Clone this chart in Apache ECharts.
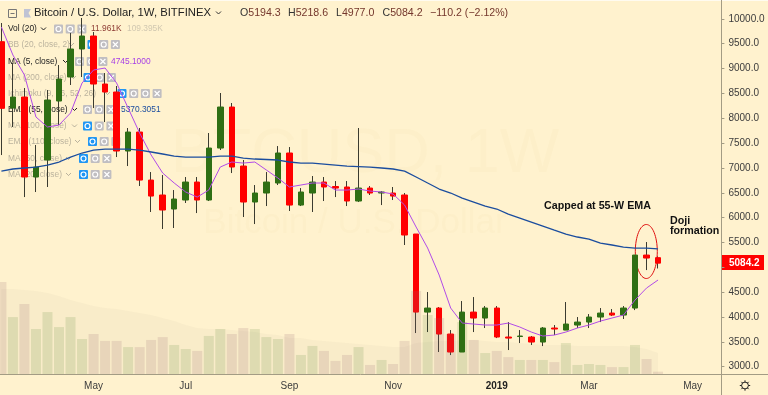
<!DOCTYPE html>
<html>
<head>
<meta charset="utf-8">
<style>
    html, body { margin: 0; padding: 0; background: #fff2ce; }
    #chart { width: 768px; height: 395px; }
</style>
<script src="https://cdn.jsdelivr.net/npm/echarts@6/dist/echarts.min.js"></script>
</head>
<body>
<div id="chart"></div>
<script>
// weekly bars
const weeks = ['2018-03-05','2018-03-12','2018-03-19','2018-03-26','2018-04-02','2018-04-09','2018-04-16','2018-04-23','2018-04-30','2018-05-07','2018-05-14','2018-05-21','2018-05-28','2018-06-04','2018-06-11','2018-06-18','2018-06-25','2018-07-02','2018-07-09','2018-07-16','2018-07-23','2018-07-30','2018-08-06','2018-08-13','2018-08-20','2018-08-27','2018-09-03','2018-09-10','2018-09-17','2018-09-24','2018-10-01','2018-10-08','2018-10-15','2018-10-22','2018-10-29','2018-11-05','2018-11-12','2018-11-19','2018-11-26','2018-12-03','2018-12-10','2018-12-17','2018-12-24','2018-12-31','2019-01-07','2019-01-14','2019-01-21','2019-01-28','2019-02-04','2019-02-11','2019-02-18','2019-02-25','2019-03-04','2019-03-11','2019-03-18','2019-03-25','2019-04-01','2019-04-08','2019-04-15','2019-04-22','2019-04-29','2019-05-06','2019-05-13']
const tickLabels = { '2018-04-30': 'May', '2018-06-25': 'Jul', '2018-08-27': 'Sep', '2018-10-29': 'Nov', '2018-12-31': '2019', '2019-02-25': 'Mar', '2019-04-29': 'May' }
const priceTicks = [3000, 3500, 4000, 4500, 5000, 5500, 6000, 6500, 7000, 7500, 8000, 8500, 9000, 9500, 10000]
// 5000.0 sits under the last price tag
const priceLabels = [3000, 3500, 4000, 4500, 5500, 6000, 6500, 7000, 7500, 8000, 8500, 9000, 9500, 10000]

const opens = [9539,8205,8426,6817,7159,8346,8829,9392,9654,8688,8527,7340,7722,6756,6455,6173,6354,6716,6354,7400,8225,7038,6314,6495,6696,7300,6253,6495,6716,6626,6616,6334,6595,6495,6495,6455,5670,4100,4181,3658,3296,4100,3980,4181,3598,3608,3598,3497,3779,3738,3839,3899,4000,4080,4040,4181,5247,5194.3]
const closes = [8199,8426,6817,7018,8366,8788,9392,9654,8688,8527,7340,7722,6756,6434,6153,6374,6716,6354,7400,8225,7018,6314,6495,6716,7300,6253,6515,6716,6616,6595,6334,6595,6495,6515,6434,5650,4100,4181,3658,3296,4100,3980,4181,3598,3577,3618,3497,3779,3759,3859,3899,4000,4080,4040,4181,5247,5187,5084.2]
const lows = [7259,7823,6414,6515,6616,7863,8668,8829,8205,7923,7219,7038,6636,6113,5771,5791,6294,6092,6334,7360,6897,6012,5871,6233,6656,6133,6233,6113,6334,6414,6233,6314,6455,6253,6354,5449,3678,3698,3296,3235,3296,3698,3779,3577,3336,3477,3437,3416,3638,3738,3779,3779,3899,4020,3960,4140,4945,4977]
const highs = [9915,9110,8607,7461,8567,9070,9714,10016,9734,8909,8648,7803,7803,6917,6857,6555,6817,6817,7702,8507,8306,7159,6656,6917,7440,7420,6595,6837,6817,6736,6736,7803,6636,6535,6616,6495,5670,4503,4201,3738,4322,4402,4221,4221,3899,3738,3618,3799,3839,4302,4000,4060,4181,4161,4221,5247,5509,5218.6]

const ma5 = [9835,9271,8869,8024,7823,7863,8104,8708,8970,9010,8708,8205,7702,7259,6897,6696,6515,6414,6555,7018,7119,7098,7119,6958,6797,6616,6656,6696,6696,6555,6555,6575,6535,6515,6475,6253,5811,5388,4845,4181,3879,3859,3839,3839,3879,3799,3698,3618,3638,3698,3779,3839,3919,3980,4040,4342,4583,4745]
const ema55 = [6937,6978,6998,7018,7058,7119,7219,7300,7360,7380,7380,7380,7360,7320,7280,7239,7219,7219,7219,7239,7239,7199,7179,7169,7159,7119,7098,7098,7078,7058,7038,7028,7018,6998,6978,6937,6817,6696,6575,6495,6394,6314,6233,6173,6072,5992,5911,5831,5750,5670,5610,5569,5489,5449,5408,5388,5388,5370]

// volume in thousands
const volumes = [478,296,364,234,322,244,296,182,208,172,172,140,140,177,192,151,130,120,198,234,208,239,234,192,182,208,99,146,120,68,99,140,47,73,52,172,432,307,291,208,270,177,109,120,88,73,73,73,62,161,47,52,47,36,36,151,78,12]
const volumeMa = [442,442,437,432,421,406,385,369,354,343,338,328,317,307,291,276,255,239,234,234,229,224,218,208,203,187,187,177,172,166,161,156,151,146,140,140,161,166,172,172,177,177,172,166,166,161,156,151,151,151,146,146,146,146,146,140,130,109]

// hidden: the row is greyed out and its first button is the blue eye
const indicatorRows = [
    { name: 'Vol (20)', y: 29, btnX: 54, chevX: 41, buttons: 3 },
    { name: 'BB (20, close, 2)', y: 44.5, btnX: 87.5, chevX: 69, buttons: 3, hidden: true },
    { name: 'MA (5, close)', y: 61.5, btnX: 75, chevX: 63, buttons: 3 },
    { name: 'MA (200, close)', y: 77.5, btnX: 83.5, chevX: 71, buttons: 3, hidden: true },
    { name: 'Ichimoku (9, 26, 52, 26)', y: 93.5, btnX: 117.5, chevX: 105, buttons: 4, hidden: true },
    { name: 'EMA (55, close)', y: 109.5, btnX: 83, chevX: 72, buttons: 3 },
    { name: 'MA (100, close)', y: 126, btnX: 83, chevX: 72, buttons: 3, hidden: true },
    { name: 'EMA (110, close)', y: 141.5, btnX: 88, chevX: 75, buttons: 3, hidden: true },
    { name: 'MA (50, close)', y: 158.5, btnX: 79, chevX: 66, buttons: 3, hidden: true },
    { name: 'MA (20, close)', y: 174.5, btnX: 79, chevX: 66, buttons: 3, hidden: true }
]

const UP = '#2f6f14'
const DOWN = '#ff0000'
const WICK = '#3b3b30'
const AXIS = '#a39c84'
const LABEL = '#3c3c3c'
const FONT = 'Liberation Sans'

function chevron(x, y, color) {
    return { type: 'polyline', shape: { points: [[x, y - 1.5], [x + 2.5, y + 1], [x + 5, y - 1.5]] }, style: { stroke: color, fill: null, lineWidth: 1 } }
}

function label(x, y, text, color, size) {
    return { type: 'text', x: x, y: y, style: { text: text, fill: color, font: (size || 8.4) + 'px "' + FONT + '"', textVerticalAlign: 'middle' } }
}

function ohlc(x, letter, value) {
    return {
        type: 'text', x: x, y: 13,
        style: {
            text: '{a|' + letter + '}{b|' + value + '}', textVerticalAlign: 'middle',
            rich: { a: { fill: '#333', font: '10.6px "' + FONT + '"' }, b: { fill: '#74372c', font: '10.6px "' + FONT + '"' } }
        }
    }
}

function legendGraphics() {
    let items = []
    indicatorRows.forEach(row => {
        let textColor = row.hidden ? 'rgba(90,90,90,.42)' : '#222'
        items.push(label(8, row.y, row.name, textColor))
        items.push(chevron(row.chevX, row.y, textColor))
        for (let i = 0; i < row.buttons; i++) {
            let x = row.btnX + i * 11.7
            let eye = row.hidden && i === 0
            items.push({ type: 'rect', shape: { x: x, y: row.y - 4.5, width: 9, height: 9, r: 1 }, style: { fill: eye ? '#2196f3' : 'rgba(150,155,185,.6)' } })
            if (i === row.buttons - 1) {
                items.push({ type: 'polyline', shape: { points: [[x + 2, row.y - 2.5], [x + 7, row.y + 2.5]] }, style: { stroke: '#fff', fill: null, lineWidth: 1.2 } })
                items.push({ type: 'polyline', shape: { points: [[x + 7, row.y - 2.5], [x + 2, row.y + 2.5]] }, style: { stroke: '#fff', fill: null, lineWidth: 1.2 } })
            } else {
                items.push({ type: 'circle', shape: { cx: x + 4.5, cy: row.y, r: 2.5 }, style: { stroke: '#fff', fill: null, lineWidth: 1.2 } })
            }
        }
    })
    return items
}

function gear(cx, cy) {
    let items = [{ type: 'circle', shape: { cx: cx, cy: cy, r: 3.4 }, style: { stroke: '#222', fill: null, lineWidth: 1 } }]
    for (let i = 0; i < 8; i++) {
        let a = i * Math.PI / 4
        items.push({
            type: 'polyline',
            shape: { points: [[cx + Math.cos(a) * 3.4, cy + Math.sin(a) * 3.4], [cx + Math.cos(a) * 5.2, cy + Math.sin(a) * 5.2]] },
            style: { stroke: '#222', fill: null, lineWidth: 1 }
        })
    }
    return items
}

let graphic = [
    // pale strip along the top edge
    { type: 'rect', shape: { x: 0, y: 0, width: 768, height: 1 }, style: { fill: '#fffbf0' } },
    // watermark
    { type: 'text', x: 365, y: 155, silent: true, style: { text: 'BTCUSD, 1W', fill: 'rgba(190,150,70,.03)', font: '63px "Liberation Sans"', textAlign: 'center', textVerticalAlign: 'middle' } },
    { type: 'text', x: 355, y: 223, silent: true, style: { text: 'Bitcoin / U.S. Dollar', fill: 'rgba(190,150,70,.03)', font: '35px "Liberation Sans"', textAlign: 'center', textVerticalAlign: 'middle' } },
    // header
    { type: 'rect', shape: { x: 8.5, y: 9.5, width: 8, height: 8 }, style: { fill: null, stroke: '#777', lineWidth: 1 } },
    { type: 'polyline', shape: { points: [[10.5, 13.5], [14.5, 13.5]] }, style: { stroke: '#777', fill: null } },
    { type: 'polygon', shape: { points: [[24, 9], [31, 9], [28.5, 13], [31, 17.5], [24, 17.5]] }, style: { fill: '#bfc3d4' } },
    label(34, 13, 'Bitcoin / U.S. Dollar, 1W, BITFINEX', '#222', 11.3),
    chevron(216, 13, '#333'),
    ohlc(240, 'O', '5194.3'),
    ohlc(288, 'H', '5218.6'),
    ohlc(336, 'L', '4977.0'),
    ohlc(382.5, 'C', '5084.2'),
    label(430, 13, '\u2212110.2 (\u22122.12%)', '#74372c', 10.6),
    // values next to the legend rows
    label(91, 29, '11.961K', '#8e3b34'),
    label(127, 29, '109.395K', 'rgba(120,120,120,.35)'),
    label(111, 61.5, '4745.1000', '#a63ee6'),
    label(121, 109.5, '5370.3051', '#1b4d9e'),
    // annotations
    { type: 'ellipse', shape: { cx: 646.3, cy: 251.5, rx: 11, ry: 27 }, style: { fill: null, stroke: '#e01010', lineWidth: 1 } },
    { type: 'text', x: 544, y: 206, style: { text: 'Capped at 55-W EMA', fill: '#111', font: 'bold 10.7px "Liberation Sans"', textVerticalAlign: 'middle' } },
    { type: 'text', x: 670, y: 221, style: { text: 'Doji', fill: '#111', font: 'bold 10.7px "Liberation Sans"', textVerticalAlign: 'middle' } },
    { type: 'text', x: 670, y: 231.5, style: { text: 'formation', fill: '#111', font: 'bold 10.7px "Liberation Sans"', textVerticalAlign: 'middle' } },
    // last price tag
    { type: 'rect', shape: { x: 722, y: 255, width: 42, height: 15 }, style: { fill: '#ff0000' } },
    { type: 'text', x: 729, y: 263, style: { text: '5084.2', fill: '#fff', font: 'bold 10px "Liberation Sans"', textVerticalAlign: 'middle' } },
    // corner under the price axis
    { type: 'polyline', shape: { points: [[722, 374.5], [768, 374.5]] }, style: { stroke: AXIS, fill: null } }
].concat(gear(745, 385.5), legendGraphics())

let option = {
    backgroundColor: '#fff2ce',
    animation: false,
    grid: [
        { left: -4.36, top: -6.05, width: 725.76, height: 422.5, outerBoundsMode: 'none' },
        { left: -4.36, top: 274, width: 725.76, height: 100, outerBoundsMode: 'none' }
    ],
    xAxis: [
        { type: 'category', gridIndex: 0, data: weeks, show: false },
        {
            type: 'category',
            gridIndex: 1,
            data: weeks,
            axisLine: { lineStyle: { color: AXIS } },
            axisTick: { length: 2, alignWithLabel: true, lineStyle: { color: AXIS }, interval: (i, v) => !!tickLabels[v] },
            axisLabel: {
                interval: (i, v) => !!tickLabels[v],
                formatter: v => v === '2018-12-31' ? '{b|2019}' : tickLabels[v],
                color: LABEL,
                fontFamily: 'Liberation Sans',
                fontSize: 10,
                margin: 7,
                rich: { b: { fontWeight: 'bold', fontSize: 10, fontFamily: 'Liberation Sans', color: '#222' } }
            }
        }
    ],
    yAxis: [
        {
            type: 'value',
            gridIndex: 0,
            position: 'right',
            min: 2000,
            max: 10500,
            interval: 500,
            splitLine: { show: false },
            axisLine: { show: true, lineStyle: { color: AXIS } },
            axisTick: { show: true, length: 3, customValues: priceTicks, lineStyle: { color: AXIS } },
            axisLabel: {
                customValues: priceLabels,
                formatter: v => v.toFixed(1),
                color: LABEL,
                fontFamily: 'Liberation Sans',
                fontSize: 10,
                margin: 7
            }
        },
        { type: 'value', gridIndex: 1, min: 0, max: 520, show: false, splitLine: { show: false } }
    ],
    series: [
        {
            // wicks only: a candle one pixel wide
            name: 'wick',
            type: 'candlestick',
            barWidth: 1,
            z: 2,
            itemStyle: { color: WICK, color0: WICK, borderColor: WICK, borderColor0: WICK, borderWidth: 1 },
            data: opens.map((o, i) => [o, closes[i], lows[i], highs[i]])
        },
        {
            name: 'body',
            type: 'candlestick',
            barWidth: 6,
            z: 3,
            itemStyle: { color: UP, color0: DOWN, borderColor: UP, borderColor0: DOWN, borderWidth: 1 },
            data: opens.map((o, i) => [o, closes[i], Math.min(o, closes[i]), Math.max(o, closes[i])])
        },
        {
            name: 'MA 5',
            type: 'line',
            data: ma5,
            showSymbol: false,
            z: 4,
            lineStyle: { color: '#b24be8', width: 1 }
        },
        {
            name: 'EMA 55',
            type: 'line',
            data: ema55,
            showSymbol: false,
            z: 4,
            lineStyle: { color: '#1b4d9e', width: 1.3 }
        },
        {
            name: 'Vol MA',
            type: 'line',
            xAxisIndex: 1,
            yAxisIndex: 1,
            data: volumeMa,
            showSymbol: false,
            z: 1,
            lineStyle: { width: 0 },
            areaStyle: { color: 'rgba(160,150,130,.06)', opacity: 1 }
        },
        {
            name: 'Vol',
            type: 'bar',
            xAxisIndex: 1,
            yAxisIndex: 1,
            barWidth: 10,
            z: 5,
            data: volumes.map((v, i) => ({
                value: v,
                itemStyle: { color: closes[i] >= opens[i] ? 'rgba(46,107,18,.13)' : 'rgba(150,100,110,.17)' }
            }))
        }
    ],
    graphic: graphic
}

var myChart = echarts.init(document.getElementById('chart'))
myChart.setOption(option)
</script>
</body>
</html>
